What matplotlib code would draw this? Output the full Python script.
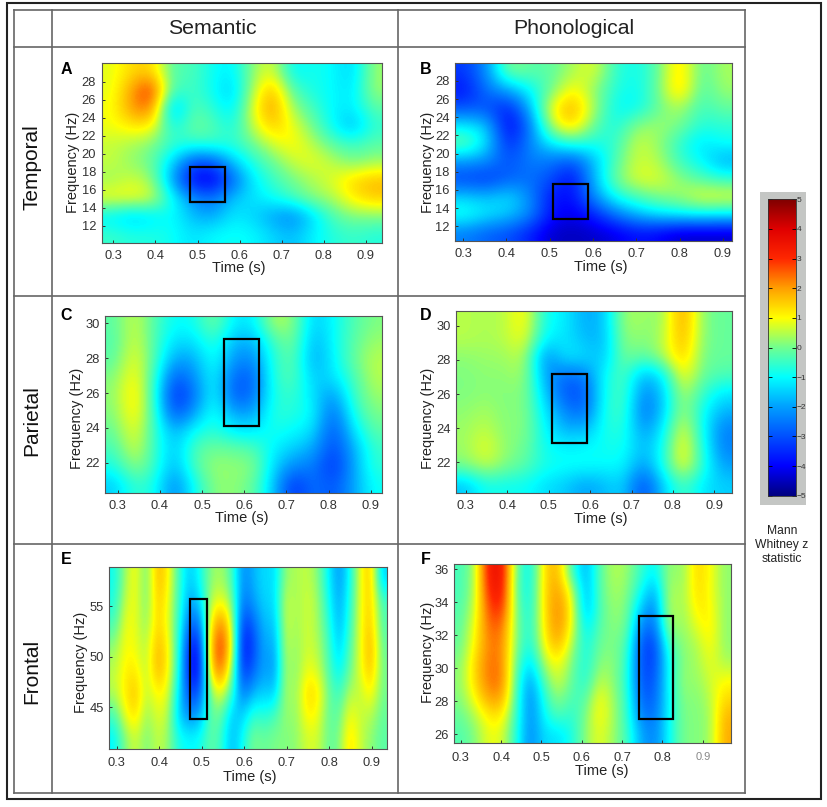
import numpy as np
import matplotlib
matplotlib.use('Agg')
import matplotlib.pyplot as plt
from matplotlib.colors import LinearSegmentedColormap
from matplotlib.patches import Rectangle

W, H = 827, 807
plt.rcParams['font.family'] = ['Liberation Sans', 'DejaVu Sans']

column_titles = ['Semantic', 'Phonological']
row_titles = ['Temporal', 'Parietal', 'Frontal']
panel_letters = ['A', 'B', 'C', 'D', 'E', 'F']
colorbar_ticks = [5, 4, 3, 2, 1, 0, -1, -2, -3, -4, -5]
time_ticks = [0.3, 0.4, 0.5, 0.6, 0.7, 0.8, 0.9]

panel_a = [
    [0.8, 1.4, 1.5, -.3, -.3, -.9, -1.2, .2, .9, -1.1, -.8, -1, -1.5, .3],
    [.8, 2.0, 3.2, -.5, -.4, -.9, -1.6, .4, 1.9, -.3, -.8, -1, -1.3, .3],
    [.9, 2.1, 2.5, -2, -.2, -.6, -1.3, .8, 2.2, .3, -.4, -1.1, -1.2, -.2],
    [.9, 1.2, 1.2, -1, 0, -.2, -.9, .6, 1.6, .9, 0, -1, -1.8, -.6],
    [.6, .4, .1, -.5, -.6, -.5, -.6, -.1, .7, 1.1, .5, -.2, -.5, -.2],
    [.6, .2, -.1, -1.4, -3, -3, -1.6, -.7, -.1, .6, .9, .5, 0, .3],
    [.3, .7, .3, -2, -4, -4.3, -2.8, -1.2, -.5, 0, .4, .8, 1.4, 1.7],
    [1, 1, .8, -.9, -2.2, -2.6, -1.6, -1.3, -.9, -.4, .2, .4, 1.2, 1.6],
    [-1.2, -1.6, -1.3, -.9, -1.7, -2, -1.2, -1.4, -2, -2.4, -1.4, -.3, .1, .1],
    [-.5, -.7, -.7, -.9, -1.3, -1, -.9, -1, -1.4, -1.7, -1.1, -.7, -.5, -.7],
]
panel_b = [
    [-3.3, -2.2, .2, -.2, -.2, .4, .9, -.6, -.9, -.2, 1.6, -.3, .4],
    [-3.8, -2.5, -1.9, -1, -.1, 1.2, .2, -.7, -1, -.1, 1.7, -.4, .3],
    [-3, -3, -3.7, -1.8, 1, 2, .4, -1, -1, -.1, .5, -.5, -.1],
    [-1.2, -1.5, -4.2, -2.6, .6, 1.6, -.1, -.9, .2, .3, .1, -.7, -.6],
    [0, -1.2, -3.7, -2.3, -1.1, -.5, -.8, -.6, .7, .3, -.6, -1.3, -.9],
    [-2, -2.2, -3, -2.4, -2.5, -3, -1.7, -.3, .7, .5, -.5, -1, -1.9],
    [-3.2, -3.4, -2.8, -2.6, -3, -4, -1.7, 0, .8, .8, .2, -.3, -.6],
    [-1.5, -1.7, -1.3, -2.2, -3.8, -3.9, -2.2, -.8, -.3, .1, .3, .9, .9],
    [-.7, -1.2, -1.5, -2.2, -3.8, -4.2, -3.6, -2.5, -1.7, -1.2, -1, -.9, -1],
    [-2.4, -2.8, -3, -3.6, -4.4, -4.5, -4.4, -4.2, -3.8, -4, -4.4, -4.4, -4.4],
]
panel_c = [
    [-.2, .7, -.3, -1, -.9, .1, -1.2, -1.2, .5, .2, -1.6, -1, -.3, .1],
    [-.3, .8, -.3, -1.4, -1.3, -.5, -1.8, -1.8, -.4, .1, -1.9, -1, -.2, .3],
    [-.2, 1, -.3, -2, -1.9, -.7, -2.2, -2.3, -.6, -.1, -2, -1.1, -.1, .5],
    [.1, 1.2, -.5, -3, -2.2, -.9, -2.8, -2.8, -.6, -.2, -1.6, -1.3, -.4, .5],
    [.2, 1.4, -.6, -3.6, -2.6, -.8, -3, -2.6, -.7, -.5, -1.3, -2.2, -.5, .3],
    [.1, 1.3, -.5, -3.1, -2, -.7, -2, -2, -.6, -.7, -1, -2.8, -.8, .1],
    [-.1, 1, -.5, -1.9, -.9, -.6, -1.2, -1.2, -.8, -1, -1.3, -3.1, -1.3, -.2],
    [-.4, .8, -.5, -1.7, -.3, 0, -.1, -.3, -1.1, -1.5, -1.9, -3.2, -1.9, -.5],
    [-.8, .3, -.5, -1.9, -.3, .3, .2, .2, -1.4, -2.3, -2.4, -3.5, -2, -.6],
    [-1.5, -.5, -.8, -2.4, -.9, .2, .2, -.1, -1.6, -3.5, -2.5, -3, -2, -.9],
]
panel_d = [
    [.5, .4, .5, 1.2, -.9, -1.1, -1.9, -1.7, .4, .3, .2, 2.2, .1, -.1],
    [.5, .4, .5, 1, -1.1, -1.2, -1.7, -1.8, .3, .1, .4, 2, .1, -.1],
    [.2, .3, .3, .6, -2.4, -1.2, -1.3, -1.7, .1, -.2, .4, 1.7, 0, -.1],
    [.1, .2, .2, .4, -2, -2.6, -2.5, -1, -.2, -1.8, -1.2, 1.2, -.1, -.3],
    [.1, .2, .1, .2, -1.5, -3, -3, -.9, -.2, -2.4, -1.6, .6, -.5, -1.2],
    [.2, .4, .1, .2, -1.2, -2.3, -2.8, -.8, -.3, -2.7, -1.6, .5, -.9, -1.8],
    [.3, .6, .1, .2, -1, -1.8, -1.8, -.8, -.6, -2.2, -1.2, 1, -.9, -2.4],
    [.3, .9, .2, 0, -.9, -1.1, -1, -.9, -.8, -1.8, -.9, 1.3, -.7, -2.4],
    [.1, .6, .1, -.2, -.8, -.9, -.9, -1, -1, -2.2, -.8, 1.1, -.6, -2],
    [-1.6, -.8, -.9, -.9, -1.3, -1.5, -2, -1.7, -1.4, -3.2, -1.5, -.3, -1.2, -1.5],
]
panel_e = [
    [-.9, .3, 1.1, -.2, 1.8, 1.2, -.4, -1.6, -.9, .2, .4, -.3, -2.3, -1.8, -1.3, -1.4, .3, .4, .6, .2, -1, -2.2, -1, .9, 1.7, -1.5],
    [-.8, .6, 1, -.1, 1.6, 1, -.4, -2, -1.4, .5, .9, .2, -2.6, -2, -1.4, -1.4, .7, .3, .7, .4, -.8, -2, -.8, .9, 1.6, -.4],
    [-.4, .9, .9, .1, 1.5, .9, -.5, -2.7, -2.6, 1.2, 2.4, .8, -3.4, -2.8, -1.6, -1.7, .7, .3, .7, .4, -.5, -1.9, -.6, .9, 1.7, -.3],
    [.2, 1, .9, .4, 1.8, 1.2, -.6, -3.6, -3.7, 1.8, 3, 1.2, -3.9, -3.2, -1.8, -2, .6, .2, .7, .5, -.3, -1.6, -.3, .8, 2, -.1],
    [.5, 1.1, 1.2, .4, 1.9, 1.2, -.7, -3.8, -4, 1.5, 2.6, .4, -3.5, -2.8, -1.9, -2.2, .5, .1, .9, .7, -.2, -1.2, -.1, .8, 1.8, 0],
    [.5, 1.2, 1.7, .5, 1.1, .9, -1.1, -3.2, -3, .2, 1, -.4, -2.6, -1.8, -1.5, -1.6, .5, .2, 1.4, 1.3, 0, -.6, .5, .5, 1.2, 0],
    [-.4, .9, 1.4, .2, .8, .6, -1.5, -2.3, -1.9, -.1, -.1, -1.6, -1.5, -.5, -.7, -.4, .3, .2, 1.1, 1, -.1, -.2, 1, .6, .5, -.1],
    [-1.1, .1, .7, 0, .6, .3, -.8, -1, -.9, -.1, -.5, -1.8, -.9, .1, -.1, .1, .1, .2, .7, .7, -.1, 0, 1.4, .6, .2, -.2],
]
panel_f = [
    [-.4, .3, 3.5, 3.6, -.1, -1.2, 1.4, 1.9, -.4, -2, -.2, .5, .3, -.5, -1.2, .4, .1, 1.5, 1, .2],
    [-.4, .4, 3.2, 3.5, -.2, -1.1, 1.4, 2.1, .8, -2, -.2, .4, .2, -.9, -2, .6, .2, 1.4, 1, .2],
    [-.3, .6, 2.8, 3.1, 0, -1, 1.3, 2.3, 1.2, -1.9, -.3, .3, .1, -1.6, -2.5, .7, .2, 1.2, 1.1, .2],
    [-.2, .9, 2.5, 2.5, .1, -.9, 1.2, 2.3, 1, -1.3, -.2, .2, 0, -2.4, -2.7, .4, .2, .8, 1.2, .2],
    [-.1, 1.1, 2.3, 2.3, .1, -1, 1, 1.9, .5, -1, 0, .1, -.3, -3, -3.3, -.4, .2, .4, 1.1, .2],
    [.1, 1.4, 2.4, 2.3, -.1, -1.5, .5, 1.1, .1, -.9, .2, .2, -.5, -3.1, -3.2, -.9, .2, .3, .9, .4],
    [.2, 1.4, 2.4, 2.4, -.3, -2.2, -.2, .8, -.1, -.8, .6, .2, -.6, -3, -3, -.9, .3, .2, .7, 1],
    [.1, 1, 2, 2, -.4, -2.5, -.7, .3, -.4, -.3, 1.1, .3, -.5, -2.8, -2.8, -1, .2, .1, .5, 1.4],
    [-.1, .4, 1.2, 1.2, -.5, -2.4, -1, -.3, -.7, .1, 1.1, .4, -.5, -2.4, -2.6, -1, .1, .1, .3, 1.8],
    [-.3, .1, .9, .8, -.7, -2.4, -1.3, -1.3, -.8, .2, .9, .3, -.4, -1.9, -2.4, -1, .1, .1, .3, 1.9],
]
# window of interest for each panel: t0, t1, f0, f1
window_a = [.4825, .565, 14.67, 18.5]
window_b = [.507, .588, 12.77, 16.6]
window_c = [.553, .635, 24.09, 29.08]
window_d = [.509, .593, 23.1, 27.18]
window_e = [.4725, .5125, 43.8, 55.72]
window_f = [.741, .827, 26.9, 33.17]

cmap = LinearSegmentedColormap.from_list('z', [
    (0.0, '#000080'), (0.10, '#0000ff'), (0.20, '#0050ff'), (0.30, '#00a0ff'), (0.40, '#00ffff'),
    (0.50, '#70ff90'), (0.60, '#ffff00'), (0.70, '#ffa000'), (0.80, '#ff2800'), (0.90, '#e00000'), (1.0, '#800000')])

fig = plt.figure(figsize=(W / 100, H / 100), dpi=100, facecolor='white')

def add_axes(x0, y0, x1, y1):
    return fig.add_axes([x0 / W, 1 - y1 / H, (x1 - x0) / W, (y1 - y0) / H])

bg = fig.add_axes([0, 0, 1, 1])
bg.set_xlim(0, W); bg.set_ylim(H, 0); bg.axis('off')
frame_col = '#666666'
bg.add_patch(Rectangle((7, 2.5), 813.5, 796.5, fill=False, ec='#222222', lw=1.5))
for x in (14, 52, 398, 744.5):
    bg.plot([x, x], [10, 793], color=frame_col, lw=1.2)
for y in (10, 47, 296, 544, 793):
    bg.plot([14, 744.5], [y, y], color=frame_col, lw=1.2)
bg.text(212, 28, column_titles[0], ha='center', va='center', fontsize=15.3, color='#222222')
bg.text(574, 28, column_titles[1], ha='center', va='center', fontsize=15.3, color='#222222')
for txt, y in zip(row_titles, (167, 421, 671)):
    bg.text(32, y, txt, ha='center', va='center', rotation=90, fontsize=15, color='#111111')

freq_t = [12, 14, 16, 18, 20, 22, 24, 26, 28]
freq_p = [22, 24, 26, 28, 30]
panels = [
    # data, window, axes box px, xlim, ylim, yticks, letter px, x tick pad, xlabel px, ylabel px
    (panel_a, window_a, (101.7, 62.7, 382, 242.7), (.2725, .938), (10.1, 30.1), freq_t, (66, 70), 5.5, (239, 268), (73, 162)),
    (panel_b, window_b, (455, 62.7, 732.3, 240.7), (.281, .922), (10.4, 30.0), freq_t, (426, 69), 5, (601, 266.5), (428, 162)),
    (panel_c, window_c, (105, 315.7, 382.3, 493.3), (.27, .9275), (20.24, 30.44), freq_p, (66, 315), 4.5, (242, 518), (77, 418)),
    (panel_d, window_d, (456, 311, 731.7, 492.7), (.276, .942), (20.2, 30.88), freq_p, (426, 315), 5, (601, 518.5), (428, 418)),
    (panel_e, window_e, (109.3, 566.7, 386.7, 748.7), (.2826, .935), (40.9, 58.9), [45, 50, 55], (66, 559), 6, (250, 776.5), (81, 662)),
    (panel_f, window_f, (454.3, 564.3, 731, 743.3), (.284, .97), (25.45, 36.3), [26, 28, 30, 32, 34, 36], (426, 559), 6, (602, 771), (428, 652)),
]
for (data, win, box, xl, yl, yt, lp, xpad, xlab, ylab), letter in zip(panels, panel_letters):
    ax = add_axes(*box)
    ax.imshow(np.array(data, float), cmap=cmap, vmin=-5, vmax=5, aspect='auto', origin='upper',
              extent=(xl[0], xl[1], yl[0], yl[1]), interpolation='bicubic')
    ax.add_patch(Rectangle((win[0], win[2]), win[1] - win[0], win[3] - win[2], fill=False, ec='black', lw=1.6))
    ax.set_xlim(*xl); ax.set_ylim(*yl)
    ax.set_xticks(time_ticks); ax.set_yticks(yt)
    ax.tick_params(direction='in', length=2.5, width=.7, color='#333333', labelsize=9.3,
                   labelcolor='#333333', pad=4)
    ax.tick_params(axis='x', pad=xpad)
    if letter == 'F':
        ax.get_xticklabels()[-1].set_color('#888888')
        ax.get_xticklabels()[-1].set_fontsize(8)
    ax.set_xlabel('Time (s)', fontsize=10.5, color='#222222', va='center')
    ax.set_ylabel('Frequency (Hz)', fontsize=10.5, color='#222222', va='center')
    bw, bh = box[2] - box[0], box[3] - box[1]
    ax.xaxis.set_label_coords((xlab[0] - box[0]) / bw, (box[3] - xlab[1]) / bh)
    ax.yaxis.set_label_coords((ylab[0] - box[0]) / bw, (box[3] - ylab[1]) / bh)
    for s in ax.spines.values():
        s.set_color('#555555'); s.set_linewidth(.8)
    bg.text(lp[0], lp[1], letter, ha='center', va='center', fontsize=11.5, fontweight='bold', color='black')

bg.add_patch(Rectangle((760, 191.7), 45.7, 313.3, fc='#c4c6c4', ec='none'))
cax = add_axes(768, 199.3, 795.7, 495.7)
cax.imshow(np.linspace(5, -5, 256).reshape(-1, 1), cmap=cmap, vmin=-5, vmax=5, aspect='auto',
           extent=(0, 1, -5, 5))
cax.set_xticks([]); cax.yaxis.tick_right(); cax.set_yticks(colorbar_ticks)
cax.tick_params(axis='y', direction='in', length=3, width=.6, labelsize=6, pad=.8, labelcolor='#333333', left=True)
for s in cax.spines.values():
    s.set_color('#333333'); s.set_linewidth(.6)
bg.text(782, 545, 'Mann\nWhitney z\nstatistic', ha='center', va='center', fontsize=8.7, color='#222222', linespacing=1.2)

fig.savefig('out.png', dpi=100)
